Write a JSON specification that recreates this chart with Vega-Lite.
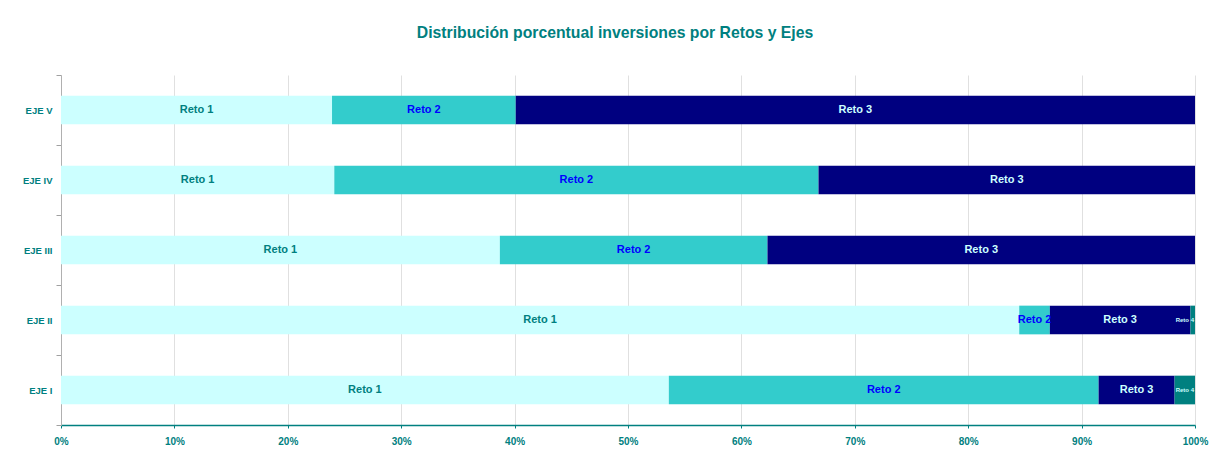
{
  "$schema": "https://vega.github.io/schema/vega-lite/v6.json",
  "autosize": "none",
  "width": 1134,
  "height": 350,
  "padding": {"left": 61, "top": 75, "right": 27, "bottom": 36},
  "background": "white",
  "title": {
    "text": "Distribución porcentual inversiones por Retos y Ejes",
    "font": "Liberation Sans",
    "fontSize": 15.75,
    "fontWeight": "bold",
    "color": "#008080",
    "anchor": "middle",
    "dx": -13,
    "offset": 28
  },
  "data": {
    "values": [
      {"eje": "EJE V", "reto": "Reto 1", "pct": 23.9},
      {"eje": "EJE V", "reto": "Reto 2", "pct": 16.2},
      {"eje": "EJE V", "reto": "Reto 3", "pct": 59.9},
      {"eje": "EJE IV", "reto": "Reto 1", "pct": 24.1},
      {"eje": "EJE IV", "reto": "Reto 2", "pct": 42.7},
      {"eje": "EJE IV", "reto": "Reto 3", "pct": 33.2},
      {"eje": "EJE III", "reto": "Reto 1", "pct": 38.7},
      {"eje": "EJE III", "reto": "Reto 2", "pct": 23.6},
      {"eje": "EJE III", "reto": "Reto 3", "pct": 37.7},
      {"eje": "EJE II", "reto": "Reto 1", "pct": 84.5},
      {"eje": "EJE II", "reto": "Reto 2", "pct": 2.7},
      {"eje": "EJE II", "reto": "Reto 3", "pct": 12.4},
      {"eje": "EJE II", "reto": "Reto 4", "pct": 0.4},
      {"eje": "EJE I", "reto": "Reto 1", "pct": 53.6},
      {"eje": "EJE I", "reto": "Reto 2", "pct": 37.9},
      {"eje": "EJE I", "reto": "Reto 3", "pct": 6.7},
      {"eje": "EJE I", "reto": "Reto 4", "pct": 1.8}
    ]
  },
  "transform": [
    {"stack": "pct", "groupby": ["eje"], "sort": [{"field": "reto", "order": "ascending"}], "as": ["x0", "x1"], "offset": "normalize"},
    {"calculate": "(datum.x0 + datum.x1) / 2", "as": "xm"}
  ],
  "encoding": {
    "y": {
      "field": "eje",
      "type": "nominal",
      "sort": ["EJE V", "EJE IV", "EJE III", "EJE II", "EJE I"],
      "scale": {"paddingInner": 0, "paddingOuter": 0},
      "axis": {
        "title": null,
        "labelFont": "Liberation Sans",
        "labelFontSize": 9.5,
        "labelFontWeight": "bold",
        "labelColor": "#008080",
        "labelPadding": 4,
        "tickSize": 5,
        "tickBand": "extent",
        "tickColor": "#a0a0a0",
        "domainColor": "#b0b0b0",
        "grid": false
      }
    }
  },
  "layer": [
    {
      "mark": {"type": "bar", "height": {"band": 0.41}},
      "encoding": {
        "x": {
          "field": "x0",
          "type": "quantitative",
          "scale": {"domain": [0, 1], "nice": false},
          "axis": {
            "title": null,
            "format": ".0%",
            "values": [0, 0.1, 0.2, 0.3, 0.4, 0.5, 0.6, 0.7, 0.8, 0.9, 1],
            "labelFlush": false,
            "labelFont": "Liberation Sans",
            "labelFontSize": 10,
            "labelFontWeight": "bold",
            "labelColor": "#008080",
            "labelPadding": 8,
            "tickSize": 3,
            "tickColor": "#008080",
            "domainColor": "#008080",
            "domainWidth": 1.5,
            "grid": true,
            "gridColor": "#e0e0e0"
          }
        },
        "x2": {"field": "x1"},
        "color": {
          "field": "reto",
          "type": "nominal",
          "scale": {"domain": ["Reto 1", "Reto 2", "Reto 3", "Reto 4"], "range": ["#CCFFFF", "#33CCCC", "#000080", "#008080"]},
          "legend": null
        }
      }
    },
    {
      "transform": [{"filter": "datum.reto != 'Reto 4'"}],
      "mark": {"type": "text", "font": "Liberation Sans", "fontSize": 11, "fontWeight": "bold", "align": "center", "baseline": "middle"},
      "encoding": {
        "x": {"field": "xm", "type": "quantitative"},
        "text": {"field": "reto"},
        "color": {
          "field": "reto",
          "type": "nominal",
          "scale": {"domain": ["Reto 1", "Reto 2", "Reto 3", "Reto 4"], "range": ["#008080", "#0000FF", "#CCFFFF", "#CCFFFF"]},
          "legend": null
        }
      }
    },
    {
      "transform": [{"filter": "datum.reto == 'Reto 4'"}],
      "mark": {"type": "text", "font": "Liberation Sans", "fontSize": 6, "fontWeight": "bold", "align": "right", "baseline": "middle", "dx": -1, "color": "#CCFFFF"},
      "encoding": {
        "x": {"field": "x1", "type": "quantitative"},
        "text": {"field": "reto"}
      }
    }
  ],
  "resolve": {"scale": {"color": "independent"}},
  "config": {"view": {"stroke": null}}
}
